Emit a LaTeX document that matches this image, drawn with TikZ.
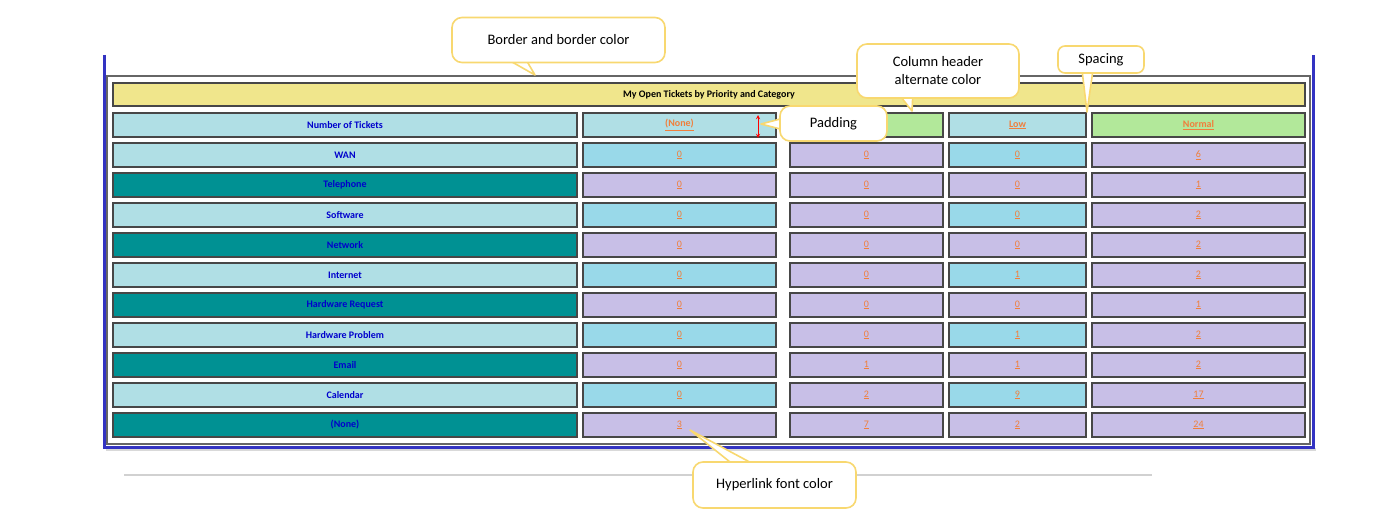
\documentclass[tikz,border=0pt]{standalone}
\usepackage{fontspec}
\setmainfont{Carlito}
\usetikzlibrary{calc}
\definecolor{pblue}{HTML}{B0DFE5}
\definecolor{teal2}{HTML}{009193}
\definecolor{sky}{HTML}{99D9E9}
\definecolor{lav}{HTML}{C8BFE7}
\definecolor{grn}{HTML}{B2E89A}
\definecolor{ylw}{HTML}{F0E68C}
\definecolor{lnk}{HTML}{F07F3C}
\definecolor{cb}{HTML}{0000CC}
\definecolor{glow}{HTML}{F8D870}
\newcommand{\ul}[1]{\underline{#1}}
\tikzset{
 cell/.style={draw=black!72, line width=2.6pt, inner sep=0pt, anchor=center, font=\fontsize{10}{12}\selectfont},
 lab/.style={cell, text=cb, font=\fontsize{10}{12}\selectfont\bfseries},
 num/.style={cell, text=lnk},
 callout/.style={draw=glow, line width=1.6pt, fill=white, rounded corners=10pt, font=\fontsize{14.5}{18}\selectfont, align=center, inner sep=0pt},
 ptr/.style={draw=glow, line width=1.6pt, fill=white, line join=round},
}
\begin{document}
\begin{tikzpicture}[x=1pt,y=-1pt]
\useasboundingbox (0,0) rectangle (1379,527);
% frame
\fill[white] (0,0) rectangle (1379,527);
\fill[black!15] (106,448) rectangle (1316,451);
\draw[blue!70!black!80, line width=3pt] (104,55) -- (104,447) -- (1313,447) -- (1313,55);
\draw[black!60, line width=1.2pt] (107,76) rectangle (1310,444);
\draw[black!18, line width=1.6pt] (124,475) -- (1152,475);
% title
\node[cell, fill=ylw, minimum width=1192, minimum height=23, font=\fontsize{10}{12}\selectfont\bfseries] (title) at (709,94.5) {My Open Tickets by Priority and Category};
% header
\def\yh{125}
\node[lab, fill=pblue, minimum width=464, minimum height=24] (h0) at (345,\yh) {Number of Tickets};
\node[num, fill=pblue, minimum width=193, minimum height=24, font=\fontsize{10}{12}\selectfont\bfseries] (h1) at (679.5,\yh) {\ul{(None)}};
\node[num, fill=grn, minimum width=153, minimum height=24] (h2) at (866.5,\yh) {};
\node[num, fill=pblue, minimum width=137, minimum height=24, font=\fontsize{10}{12}\selectfont\bfseries] (h3) at (1017.5,\yh) {\ul{Low}};
\node[num, fill=grn, minimum width=213, minimum height=24, font=\fontsize{10}{12}\selectfont\bfseries] (h4) at (1198.5,\yh) {\ul{Normal}};
% rows
\foreach [count=\i] \name/\a/\b/\c/\d in {WAN/0/0/0/6, Telephone/0/0/0/1, Software/0/0/0/2, Network/0/0/0/2, Internet/0/0/1/2, Hardware Request/0/0/0/1, Hardware Problem/0/0/1/2, Email/0/1/1/2, Calendar/0/2/9/17, (None)/3/7/2/24}{
  \pgfmathsetmacro{\y}{125+30*\i}
  \pgfmathtruncatemacro{\odd}{mod(\i,2)}
  \ifnum\odd=1
    \def\fa{pblue}\def\fb{sky}
  \else
    \def\fa{teal2}\def\fb{lav}
  \fi
  \node[lab, fill=\fa, minimum width=464, minimum height=24] (r\i c0) at (345,\y) {\name};
  \node[num, fill=\fb, minimum width=193, minimum height=24] (r\i c1) at (679.5,\y) {\ul{\a}};
  \node[num, fill=lav, minimum width=153, minimum height=24] (r\i c2) at (866.5,\y) {\ul{\b}};
  \node[num, fill=\fb, minimum width=137, minimum height=24] (r\i c3) at (1017.5,\y) {\ul{\c}};
  \node[num, fill=lav, minimum width=213, minimum height=24] (r\i c4) at (1198.5,\y) {\ul{\d}};
}
% padding arrow
\coordinate (pt) at (758,115);
\coordinate (pb) at (758,138);
\draw[red, line width=0.9pt, <->, >=stealth] (pt) -- (pb);
% callouts
\coordinate (t1) at (535,75);
\coordinate (t2) at (912,111);
\coordinate (t3) at (1087,112);
\coordinate (t4) at (761,124);
\coordinate (t5) at (690,430);
\draw[ptr] (505,58) -- (t1) -- (525,58);
\node[callout, minimum width=213, minimum height=45] (c1) at (558.5,40) {Border and border color};
\draw[ptr] (897,92) -- (t2) -- (913,92);
\node[callout, minimum width=162, minimum height=54] (c2) at (938,71) {Column header\\alternate color};
\draw[ptr] (1082,70) -- (t3) -- (1093,70);
\node[callout, minimum width=86, minimum height=27, rounded corners=7pt] (c3) at (1101,59.5) {Spacing};
\draw[ptr] (784,118) -- (t4) -- (784,130);
\node[callout, minimum width=107, minimum height=35] (c4) at (833.5,123.5) {Padding};
\draw[ptr] (735,466) -- (t5) -- (757,466);
\node[callout, minimum width=163, minimum height=46] (c5) at (774.5,485) {Hyperlink font color};
\end{tikzpicture}
\end{document}
